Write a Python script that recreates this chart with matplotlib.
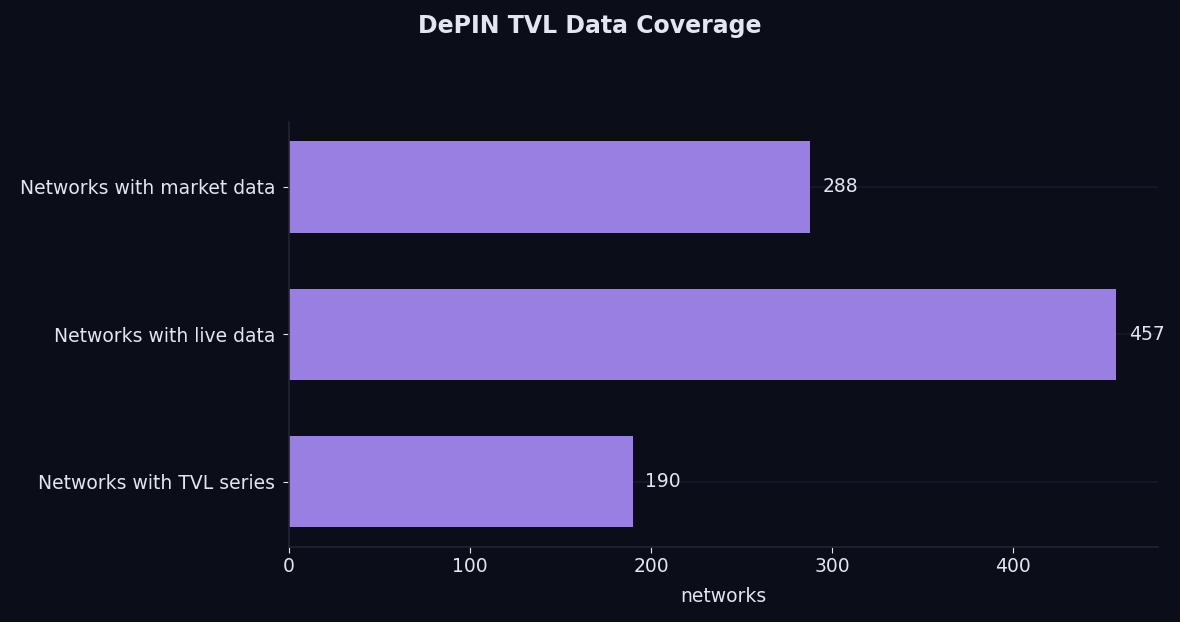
import matplotlib
matplotlib.use("Agg")
import matplotlib.pyplot as plt

plt.rcParams["font.family"] = ["DejaVu Sans"]

# data
categories = ["Networks with TVL series", "Networks with live data", "Networks with market data"]
counts = [190, 457, 288]

BG = "#0b0e19"
BAR = "#9a7fe3"
TXT = "#e3e6ef"
SPINE = "#1f2536"
GRID = "#161b29"
FS = 13.5

fig, ax = plt.subplots(figsize=(11.8, 6.22), dpi=100)
fig.patch.set_facecolor(BG)
ax.set_facecolor(BG)

bars = ax.barh(categories, counts, height=0.62, color=BAR, zorder=2)
for b, v in zip(bars, counts):
    ax.annotate(str(v), (b.get_width(), b.get_y() + b.get_height() / 2),
                xytext=(9, 0), textcoords="offset points",
                va="center", ha="left", color=TXT, fontsize=FS)

ax.grid(axis="y", color=GRID, linewidth=1.2, zorder=0)
ax.set_axisbelow(True)
for s in ["top", "right"]:
    ax.spines[s].set_visible(False)
for s in ["left", "bottom"]:
    ax.spines[s].set_color(SPINE)
    ax.spines[s].set_linewidth(1.2)

ax.tick_params(colors=TXT, labelsize=FS, length=4)
ax.tick_params(axis="y", pad=6)
ax.set_xticks([0, 100, 200, 300, 400])
ax.set_xlabel("networks", color=TXT, fontsize=FS, labelpad=8)

fig.suptitle("DePIN TVL Data Coverage", color=TXT, fontsize=17, fontweight="bold", y=0.977)
fig.subplots_adjust(left=0.245, right=0.981, top=0.804, bottom=0.121)

fig.savefig("out.png", facecolor=BG)
